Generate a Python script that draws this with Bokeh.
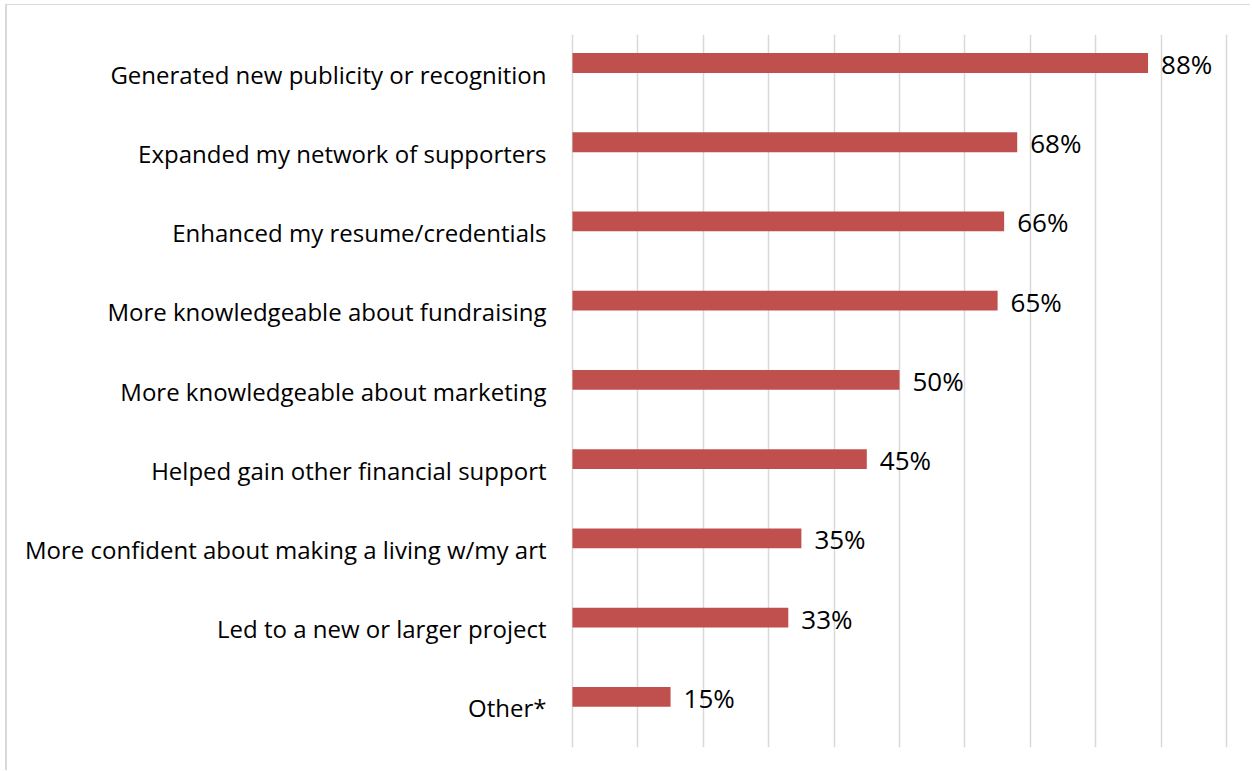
from bokeh.plotting import figure
from bokeh.models import ColumnDataSource, FactorRange, Range1d, FixedTicker
from bokeh.transform import dodge
from bokeh.core.properties import value
from bokeh.embed import file_html
from bokeh.resources import INLINE

categories = [
    "Generated new publicity or recognition",
    "Expanded my network of supporters",
    "Enhanced my resume/credentials",
    "More knowledgeable about fundraising",
    "More knowledgeable about marketing",
    "Helped gain other financial support",
    "More confident about making a living w/my art",
    "Led to a new or larger project",
    "Other*",
]
values = [88, 68, 66, 65, 50, 45, 35, 33, 15]
labels = [f"{v}%" for v in values]
x_ticks = [0, 10, 20, 30, 40, 50, 60, 70, 80, 90, 100]

src = ColumnDataSource(dict(cat=categories, val=values, lab=labels))

p = figure(
    width=1245, height=766,
    y_range=FactorRange(factors=list(reversed(categories))),
    x_range=Range1d(-0.3, 100.3),
    output_backend="svg", toolbar_location=None,
    min_border_left=563, min_border_right=24, min_border_top=29, min_border_bottom=24,
    background_fill_color="white", border_fill_color="white",
)
p.outline_line_color = None
p.styles = {"margin-top": "4px", "margin-left": "5px",
            "border-top": "1px solid #d9d9d9", "border-left": "2px solid #d9d9d9"}

off = dodge("cat", 0.14, range=p.y_range)
p.hbar(y=off, left=0, right="val", height=0.25, source=src,
       fill_color="#C0504D", line_color=None)
p.text(x="val", y=off, text="lab", source=src, x_offset=13, y_offset=1,
       text_baseline="middle", text_align="left",
       text_font=value("Open Sans"), text_font_size="26px",
       text_font_style="normal", text_color="black")

p.xaxis.visible = False
p.xaxis.ticker = FixedTicker(ticks=x_ticks)
p.xgrid.ticker = FixedTicker(ticks=x_ticks)
p.xgrid.grid_line_color = "#d9d9d9"
p.xgrid.grid_line_width = 1.5
p.ygrid.grid_line_color = None

p.yaxis.axis_line_color = None
p.yaxis.major_tick_line_color = None
p.yaxis.minor_tick_line_color = None
p.yaxis.major_label_standoff = 18
p.yaxis.major_label_text_font = "Open Sans"
p.yaxis.major_label_text_font_size = "24px"
p.yaxis.major_label_text_color = "black"

open("out.html", "w").write(file_html(p, INLINE))
